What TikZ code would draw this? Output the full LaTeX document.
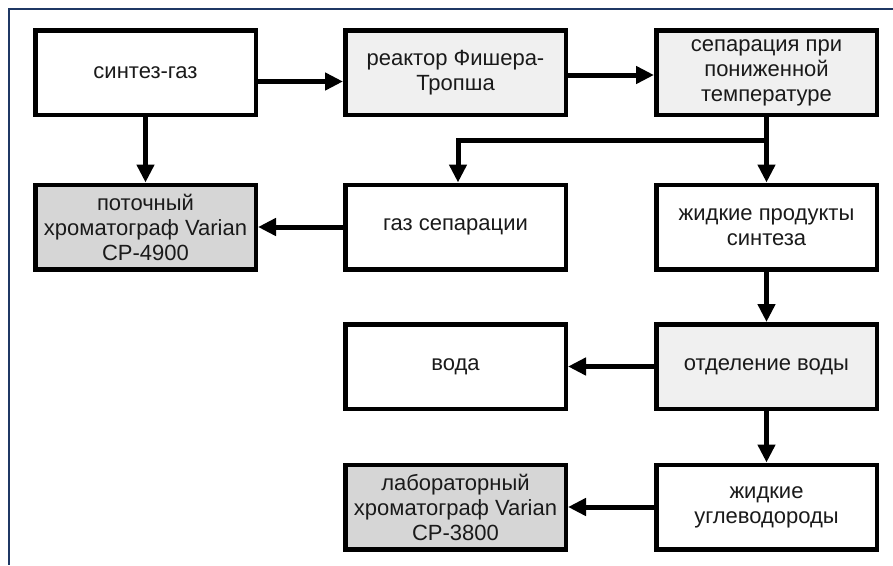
\documentclass[tikz,border=0pt]{standalone}
\usepackage{fontspec}
\setmainfont{Liberation Sans}
\usetikzlibrary{arrows.meta}
\definecolor{lightfill}{HTML}{F0F0F0}
\definecolor{darkfill}{HTML}{D6D6D6}
\definecolor{framecol}{HTML}{1F3864}
\definecolor{txt}{HTML}{1A1A1A}
\begin{document}
\begin{tikzpicture}[x=1pt,y=-1pt,
  box/.style={draw=black, line width=4.5pt, minimum width=220.5pt, minimum height=84.5pt, inner sep=2pt, align=center, font=\fontsize{22}{25}\selectfont, text=txt},
  wbox/.style={box, fill=white},
  lbox/.style={box, fill=lightfill},
  gbox/.style={box, fill=darkfill},
  arr/.style={line width=5pt, -{Triangle[length=18pt,width=17pt]}},
  frameline/.style={draw=framecol, line width=1.5pt}
]
\useasboundingbox (0,0) rectangle (893,565);
\fill[white] (0,0) rectangle (893,565);
\draw[frameline] (893,9) -- (9,9) -- (9,565);

\node[wbox] (syn) at (145.5,72.5) {синтез-газ};
\node[lbox] (reac) at (455.5,72.5) {реактор Фишера-\\Тропша};
\node[lbox] (sep) at (766.5,72.5) {сепарация при\\пониженной\\температуре};
\node[gbox] (pot) at (145.5,227) {поточный\\хроматограф Varian\\CP-4900};
\node[wbox] (gas) at (455.5,227) {газ сепарации};
\node[wbox] (liq) at (766.5,227) {жидкие продукты\\синтеза};
\node[wbox] (water) at (455.5,366.5) {вода};
\node[lbox] (sepw) at (766.5,366.5) {отделение воды};
\node[gbox] (lab) at (455.5,507) {лабораторный\\хроматограф Varian\\CP-3800};
\node[wbox] (hc) at (766.5,507) {жидкие\\углеводороды};

\coordinate (jy) at (0,140);
\coordinate (j) at (sep.south |- jy);

\draw[arr] ([yshift=-9pt]syn.east) -- ([yshift=-9pt]reac.west);
\draw[arr] ([yshift=-2.5pt]reac.east) -- ([yshift=-2.5pt]sep.west);
\draw[arr] (syn.south) -- (pot.north);
\draw[arr] (sep.south) -- (liq.north);
\draw[arr] (j) -| ([xshift=2.5pt]gas.north);
\draw[arr] (gas.west) -- (pot.east);
\draw[arr] (liq.south) -- (sepw.north);
\draw[arr] (sepw.west) -- (water.east);
\draw[arr] (sepw.south) -- (hc.north);
\draw[arr] (hc.west) -- (lab.east);
\end{tikzpicture}
\end{document}
